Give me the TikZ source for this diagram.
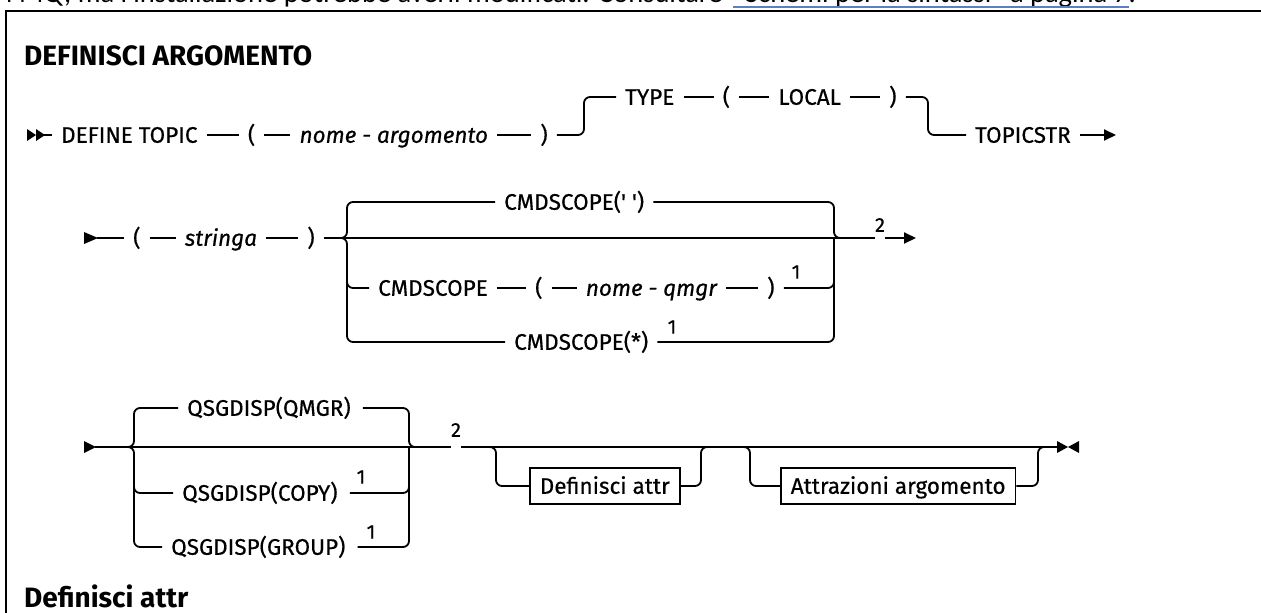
\documentclass[tikz,border=0pt]{standalone}
\usepackage{fontspec}
\newfontfamily\railfont{Fira Sans}[FakeBold=0.5]
\newfontfamily\headfamily{Fira Sans}
\newfontfamily\pagefont{Carlito}
\usetikzlibrary{arrows.meta, positioning}

\newcommand{\diafont}{\railfont\fontsize{22.5}{27}\selectfont}
\newcommand{\headfont}{\headfamily\fontsize{28}{33}\selectfont\bfseries}
\newcommand{\notefont}{\railfont\fontsize{20}{24}\selectfont}
\newcommand{\pgfont}{\pagefont\fontsize{28.5}{34}\selectfont}

\definecolor{linkblue}{HTML}{5B7FC4}

\tikzset{
  rail/.style={line width=1.8pt, rounded corners=6pt},
  tok/.style={font=\diafont, inner sep=0pt, text height=15.5pt, text depth=0pt, anchor=west},
  var/.style={tok, font=\diafont\itshape},
  note/.style={font=\notefont, inner sep=0pt},
  optbox/.style={draw, line width=1.6pt, font=\diafont, inner xsep=10pt,
                 minimum height=36pt, text height=15.5pt, text depth=0pt, anchor=west},
  heading/.style={font=\headfont, inner sep=0pt, text height=19pt, text depth=0pt, anchor=west},
  endtip/.style={-{Triangle[length=12pt, width=11pt]}},
  frame/.style={line width=2.5pt},
}

\begin{document}
\begin{tikzpicture}[x=1pt, y=-1pt]
  \useasboundingbox (0,0) rectangle (1261,613);

  % --- page text above the frame ---
  \node[font=\pgfont, inner sep=0pt, anchor=base east] (pgtxt) at (723,2.5)
    {IBM MQ, ma l'installazione potrebbe averli modificati. Consultare};
  \node[font=\pgfont, inner sep=0pt, anchor=base west] (pglink) at (733,2.5)
    {“Schemi per la sintassi” a pagina 7};
  \node[font=\pgfont, inner sep=0pt, anchor=base west] (pgdot) at (pglink.base east) {.};
  \draw[linkblue, line width=1.2pt] ([yshift=-4.5pt]pglink.base west) -- ([yshift=-4.5pt]pglink.base east);
  \draw[frame] (6,640) -- (6,11) -- (1290,11);

  \node[heading] (title) at (24,56) {DEFINISCI ARGOMENTO};

  % --- row 1 ---
  \fill (27,129) -- (36,135) -- (27,141) -- cycle
        (36,129) -- (45,135) -- (36,141) -- cycle;
  \coordinate (s1) at (44,135);
  \coordinate (b1) at (584,97);
  \coordinate (b2) at (928,135);
  \coordinate (e1) at (1116,135);
  \node[tok] (deftopic) at (61,135) {DEFINE TOPIC};
  \node[tok, right=50pt of deftopic] (lp1) {(};
  \node[var, right=44pt of lp1] (topname) {nome - argomento};
  \node[tok, right=52pt of topname] (rp1) {)};
  \node[tok] (type) at (625,97) {TYPE};
  \node[tok, right=48pt of type] (lp2) {(};
  \node[tok, right=48pt of lp2] (local) {LOCAL};
  \node[tok, right=48pt of local] (rp2) {)};
  \node[tok] (topicstr) at (975,135) {TOPICSTR};

  \draw[rail] (s1) -- ([xshift=-9pt]deftopic.west);
  \draw[rail] ([xshift=9pt]deftopic.east) -- ([xshift=-9pt]lp1.west);
  \draw[rail] ([xshift=9pt]lp1.east) -- ([xshift=-9pt]topname.west);
  \draw[rail] ([xshift=9pt]topname.east) -- ([xshift=-9pt]rp1.west);
  \draw[rail] ([xshift=9pt]rp1.east) -| (b1) -- ([xshift=-9pt]type.west);
  \draw[rail] ([xshift=9pt]type.east) -- ([xshift=-9pt]lp2.west);
  \draw[rail] ([xshift=9pt]lp2.east) -- ([xshift=-9pt]local.west);
  \draw[rail] ([xshift=9pt]local.east) -- ([xshift=-9pt]rp2.west);
  \draw[rail] ([xshift=9pt]rp2.east) -| (b2) -- ([xshift=-9pt]topicstr.west);
  \draw[rail, endtip] ([xshift=9pt]topicstr.east) -- (e1);

  % --- row 2 ---
  \fill (84,232) -- (98,238) -- (84,244) -- cycle;
  \coordinate (s2) at (97,238);
  \coordinate (l2) at (347,238);
  \coordinate (r2) at (834,238);
  \coordinate (e2) at (916,238);
  \node[tok] (lp3) at (133,238) {(};
  \node[var, right=44pt of lp3] (str) {stringa};
  \node[tok, right=50pt of str] (rp3) {)};
  \node[tok] (cs1) at (504,202) {CMDSCOPE(' ')};
  \node[tok] (cs2) at (378,288) {CMDSCOPE};
  \node[tok, right=47pt of cs2] (lp4) {(};
  \node[var, right=43pt of lp4] (qmgr) {nome - qmgr};
  \node[tok, right=50pt of qmgr] (rp4) {)};
  \node[tok] (cs3) at (514,342) {CMDSCOPE(*)};
  \node[note] (n1a) at (796,272) {1};
  \node[note] (n1b) at (672,327) {1};
  \node[note] (n2a) at (880,225) {2};
  \coordinate (l2b) at (l2 |- cs2.west);

  \draw[rail] (s2) -- ([xshift=-9pt]lp3.west);
  \draw[rail] ([xshift=9pt]lp3.east) -- ([xshift=-9pt]str.west);
  \draw[rail] ([xshift=9pt]str.east) -- ([xshift=-9pt]rp3.west);
  \draw[rail] ([xshift=9pt]rp3.east) -- (n2a.west |- r2);
  \draw[rail, endtip] (n2a.east |- r2) -- (e2);
  \draw[rail] ([xshift=-10pt]l2) -- (l2) |- ([xshift=-9pt]cs1.west);
  \draw[rail] ([xshift=-10pt]l2) -- (l2) |- ([xshift=-9pt]cs3.west);
  \draw[rail] ([yshift=10pt]l2b) -- (l2b) -- ([xshift=-9pt]cs2.west);
  \draw[rail] ([xshift=9pt]cs2.east) -- ([xshift=-9pt]lp4.west);
  \draw[rail] ([xshift=9pt]lp4.east) -- ([xshift=-9pt]qmgr.west);
  \draw[rail] ([xshift=9pt]qmgr.east) -- ([xshift=-9pt]rp4.west);
  \draw[rail] ([xshift=9pt]cs1.east) -| (r2) -- ([xshift=10pt]r2);
  \draw[rail] ([xshift=9pt]rp4.east) -| (r2);
  \draw[rail] ([xshift=9pt]cs3.east) -| (r2);

  % --- row 3 ---
  \fill (84,441) -- (96,447) -- (84,453) -- cycle;
  \coordinate (s3) at (95,447);
  \coordinate (l3) at (134,447);
  \coordinate (r3) at (409,447);
  \coordinate (o1) at (496,447);
  \coordinate (o1r) at (701,447);
  \coordinate (o2) at (750,447);
  \coordinate (o2r) at (1038,447);
  \coordinate (e3) at (1057,447);
  \node[tok] (qsgq) at (187,408) {QSGDISP(QMGR)};
  \node[tok] (qsgc) at (182,493) {QSGDISP(COPY)};
  \node[tok] (qsgg) at (171,547) {QSGDISP(GROUP)};
  \node[note] (n1c) at (361,477) {1};
  \node[note] (n1d) at (371,532) {1};
  \node[note] (n2b) at (456,430) {2};
  \node[optbox] (defattr) at (529,486) {Definisci attr};
  \node[optbox] (topattr) at (780,486) {Attrazioni argomento};
  \coordinate (l3c) at (l3 |- qsgc.west);

  \draw[rail] (s3) -- (n2b.west |- r3);
  \draw[rail] (n2b.east |- r3) -- (e3);
  \draw[rail] ([xshift=-10pt]l3) -- (l3) |- ([xshift=-9pt]qsgq.west);
  \draw[rail] ([xshift=-10pt]l3) -- (l3) |- ([xshift=-9pt]qsgg.west);
  \draw[rail] ([yshift=10pt]l3c) -- (l3c) -- ([xshift=-9pt]qsgc.west);
  \draw[rail] ([xshift=12pt]qsgq.east) -| (r3) -- ([xshift=10pt]r3);
  \draw[rail] ([xshift=12pt]qsgc.east) -| (r3);
  \draw[rail] ([xshift=12pt]qsgg.east) -| (r3);
  \draw[rail] ([xshift=-10pt]o1) -- (o1) |- (defattr.west);
  \draw[rail] (defattr.east) -| (o1r) -- ([xshift=10pt]o1r);
  \draw[rail] ([xshift=-10pt]o2) -- (o2) |- (topattr.west);
  \draw[rail] (topattr.east) -| (o2r) -- ([xshift=10pt]o2r);
  \fill (1057,441) -- (1068,447) -- (1057,453) -- cycle
        (1079,441) -- (1068,447) -- (1079,453) -- cycle;

  \node[heading] (defhead) at (24,598) {Definisci attr};
\end{tikzpicture}
\end{document}
